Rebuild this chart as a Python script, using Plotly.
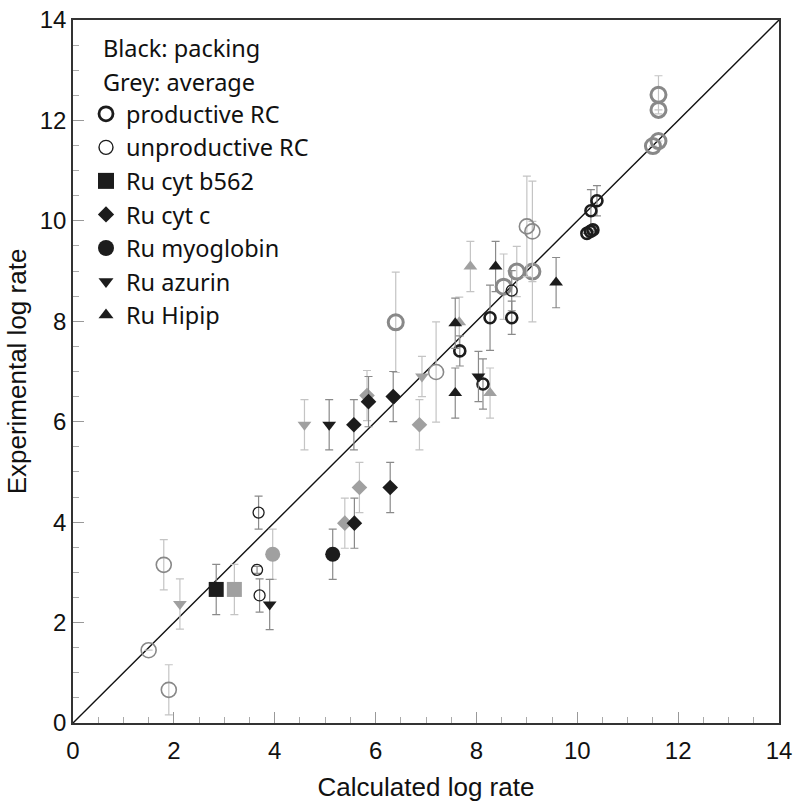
import plotly.graph_objects as go

# ---------------- data (calculated log rate, experimental log rate, error) ----------------
prod_black_x = [8.27, 8.70, 7.67, 8.13, 10.27, 10.39, 10.19, 10.26, 10.31]
prod_black_y = [8.07, 8.07, 7.41, 6.75, 10.20, 10.40, 9.75, 9.79, 9.82]
prod_black_e = [0.65, 0.33, 0.30, 0.50, 0.42, 0.30, 0.0, 0.0, 0.0]

prod_grey_x = [6.40, 8.80, 9.11, 8.54, 11.50, 11.61, 11.61, 11.61]
prod_grey_y = [7.98, 8.99, 8.99, 8.69, 11.49, 11.59, 12.51, 12.21]
prod_grey_e = [1.00, 0.50, 1.00, 0.65, 0.0, 0.0, 0.38, 0.0]

unprod_black_x = [3.68, 3.65, 3.70, 8.70]
unprod_black_y = [4.19, 3.05, 2.54, 8.61]
unprod_black_e = [0.33, 0.07, 0.33, 0.40]

unprod_grey_x = [1.80, 1.50, 1.90, 7.20, 9.00, 9.11]
unprod_grey_y = [3.15, 1.45, 0.66, 6.99, 9.89, 9.79]
unprod_grey_e = [0.50, 0.0, 0.50, 1.00, 1.00, 1.00]

b562_black_x = [2.84]
b562_black_y = [2.66]
b562_black_e = [0.50]
b562_grey_x = [3.20]
b562_grey_y = [2.66]
b562_grey_e = [0.50]

cytc_black_x = [5.57, 5.86, 6.35, 6.29, 5.58]
cytc_black_y = [5.94, 6.40, 6.50, 4.69, 3.98]
cytc_black_e = [0.50, 0.50, 0.50, 0.50, 0.50]
cytc_grey_x = [5.83, 6.87, 5.68, 5.39]
cytc_grey_y = [6.52, 5.94, 4.69, 3.98]
cytc_grey_e = [0.50, 0.50, 0.50, 0.50]

myo_black_x = [5.15]
myo_black_y = [3.36]
myo_black_e = [0.50]
myo_grey_x = [3.96]
myo_grey_y = [3.36]
myo_grey_e = [0.50]

azu_black_x = [5.08, 3.90, 8.04]
azu_black_y = [5.94, 2.36, 6.90]
azu_black_e = [0.50, 0.50, 0.50]
azu_grey_x = [4.59, 2.12, 6.92]
azu_grey_y = [5.94, 2.37, 6.90]
azu_grey_e = [0.50, 0.50, 0.40]

hip_black_x = [7.58, 7.58, 8.38, 9.58]
hip_black_y = [6.57, 7.96, 9.09, 8.77]
hip_black_e = [0.50, 0.50, 0.50, 0.50]
hip_grey_x = [8.27, 7.66, 7.88]
hip_grey_y = [6.57, 7.98, 9.09]
hip_grey_e = [0.50, 0.50, 0.50]

diag_x = [0, 14]
diag_y = [0, 14]

legend_names = ["productive RC", "unproductive RC", "Ru cyt b562", "Ru cyt c",
                "Ru myoglobin", "Ru azurin", "Ru Hipip"]
note_lines = ["Black: packing", "Grey: average"]

# ---------------- styles ----------------
BLACK = "#1c1c1c"
GREY = "#a0a0a0"
GREY_LINE = "#888888"
ERR_BLACK = "#8a8a8a"
ERR_GREY = "#c4c4c4"
FONT_AX = "Liberation Sans, Arial, sans-serif"
FONT_LEG = "Noto Sans, Open Sans, sans-serif"

L, R, T, B = 73, 21, 20, 84
PW, PH = 800 - L - R, 807 - T - B

fig = go.Figure()

fig.add_trace(go.Scatter(x=diag_x, y=diag_y, mode="lines",
                         line=dict(color="#111111", width=1.4),
                         showlegend=False, hoverinfo="skip"))


def marker_of(symbol, size, color, filled, lw):
    if filled:
        return dict(symbol=symbol, size=size, color=color, line=dict(width=0))
    return dict(symbol=symbol + "-open", size=size, color=color,
                line=dict(width=lw, color=color))


def add(x, y, e, name, symbol, size, color, filled, lw, errc):
    fig.add_trace(go.Scatter(
        x=x, y=y, mode="markers", name=name,
        marker=marker_of(symbol, size, color, filled, lw),
        error_y=dict(type="data", array=e, visible=True, color=errc,
                     thickness=1.2, width=4),
        showlegend=False))


# grey (average) first, so black sits on top
add(prod_grey_x, prod_grey_y, prod_grey_e, legend_names[0], "circle", 15, GREY_LINE, False, 3, ERR_GREY)
add(unprod_grey_x, unprod_grey_y, unprod_grey_e, legend_names[1], "circle", 15, GREY_LINE, False, 1.6, ERR_GREY)
add(b562_grey_x, b562_grey_y, b562_grey_e, legend_names[2], "square", 15, GREY, True, 0, ERR_GREY)
add(cytc_grey_x, cytc_grey_y, cytc_grey_e, legend_names[3], "diamond", 12, GREY, True, 0, ERR_GREY)
add(myo_grey_x, myo_grey_y, myo_grey_e, legend_names[4], "circle", 15, GREY, True, 0, ERR_GREY)
add(azu_grey_x, azu_grey_y, azu_grey_e, legend_names[5], "triangle-down", 12, GREY, True, 0, ERR_GREY)
add(hip_grey_x, hip_grey_y, hip_grey_e, legend_names[6], "triangle-up", 12, GREY, True, 0, ERR_GREY)

# black (packing)
add(prod_black_x, prod_black_y, prod_black_e, legend_names[0], "circle", 11, BLACK, False, 2.6, ERR_BLACK)
add(unprod_black_x, unprod_black_y, unprod_black_e, legend_names[1], "circle", 11, BLACK, False, 1.3, ERR_BLACK)
add(b562_black_x, b562_black_y, b562_black_e, legend_names[2], "square", 15, BLACK, True, 0, ERR_BLACK)
add(cytc_black_x, cytc_black_y, cytc_black_e, legend_names[3], "diamond", 12, BLACK, True, 0, ERR_BLACK)
add(myo_black_x, myo_black_y, myo_black_e, legend_names[4], "circle", 15, BLACK, True, 0, ERR_BLACK)
add(azu_black_x, azu_black_y, azu_black_e, legend_names[5], "triangle-down", 12, BLACK, True, 0, ERR_BLACK)
add(hip_black_x, hip_black_y, hip_black_e, legend_names[6], "triangle-up", 12, BLACK, True, 0, ERR_BLACK)

# legend keys (no data, legend only)
legend_styles = [("circle", 14, False, 2.8), ("circle", 14, False, 1.4),
                 ("square", 16, True, 0), ("diamond", 12.5, True, 0),
                 ("circle", 16, True, 0), ("triangle-down", 13, True, 0),
                 ("triangle-up", 13, True, 0)]
for name, (sym, sz, filled, lw) in zip(legend_names, legend_styles):
    fig.add_trace(go.Scatter(x=[None], y=[None], mode="markers", name=name,
                             marker=marker_of(sym, sz, BLACK, filled, lw),
                             showlegend=True))

axis_common = dict(
    range=[0, 14], dtick=2, tick0=0, automargin=False,
    ticks="inside", ticklen=11, tickwidth=1, tickcolor="#999999",
    minor=dict(ticks="inside", ticklen=6, dtick=0.5, tickcolor="#aaaaaa", tickwidth=1),
    showline=True, linecolor="#333333", linewidth=1.5, mirror=True,
    showgrid=False, zeroline=False,
    tickfont=dict(family=FONT_AX, size=24, color="#111111"),
)

fig.update_layout(
    width=800, height=807,
    margin=dict(l=L, r=R, t=T, b=B, autoexpand=False),
    paper_bgcolor="white", plot_bgcolor="white",
    xaxis=dict(**axis_common, ticklabelstandoff=5,
               title=dict(text="Calculated log rate", standoff=15,
                          font=dict(family=FONT_AX, size=26, color="#111111"))),
    yaxis=dict(**axis_common,
               title=dict(text="Experimental log rate", standoff=6,
                          font=dict(family=FONT_AX, size=26, color="#111111"))),
    legend=dict(x=(86 - L) / PW, y=1 - (92 - T) / PH, xanchor="left", yanchor="top",
                bgcolor="rgba(0,0,0,0)", borderwidth=0,
                font=dict(family=FONT_LEG, size=23.5, color="#111111"),
                itemsizing="trace", tracegroupgap=0),
    showlegend=True,
)

for i, txt in enumerate(note_lines):
    fig.add_annotation(x=(101 - L) / PW, y=1 - (48.3 + 33.4 * i - T) / PH,
                       xref="paper", yref="paper", xanchor="left", yanchor="middle",
                       text=txt, showarrow=False,
                       font=dict(family=FONT_LEG, size=23.5, color="#111111"))

fig.write_html("out.html", config={"displayModeBar": False},
               post_script="document.body.style.margin='0px';document.body.style.overflow='hidden';")
